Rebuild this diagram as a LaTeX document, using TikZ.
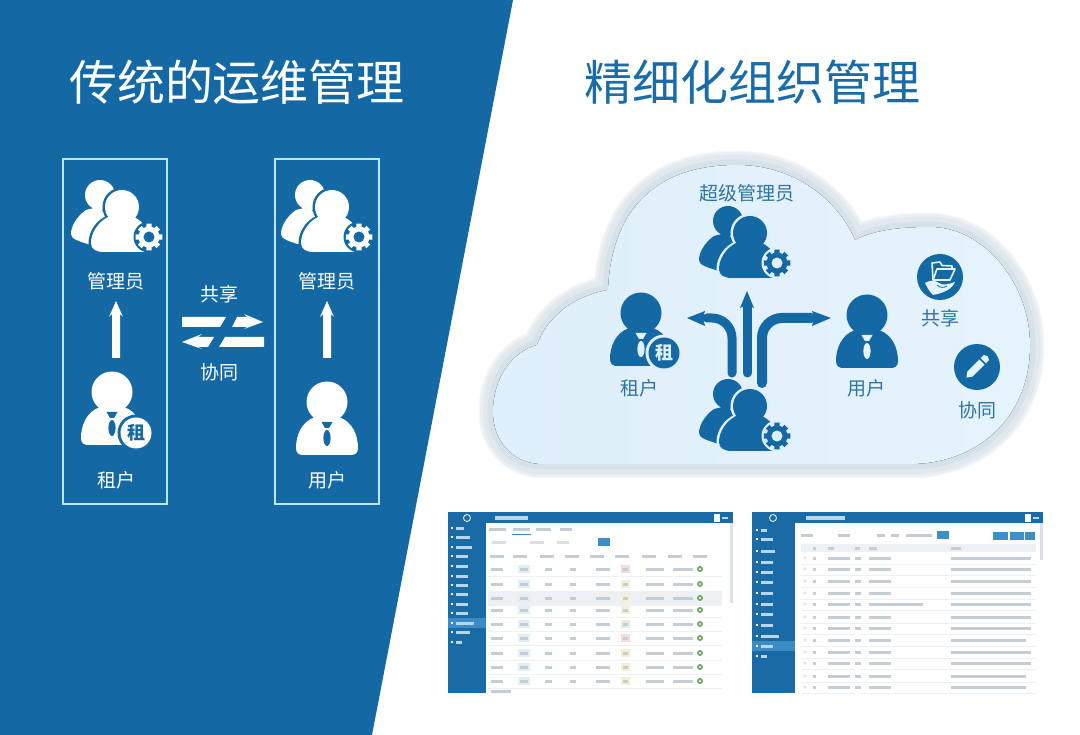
\documentclass[tikz,border=0pt]{standalone}
\usepackage{fontspec}
\setmainfont{Noto Sans CJK SC}
\usetikzlibrary{calc}
\definecolor{mainblue}{HTML}{1469A4}
\definecolor{boxline}{HTML}{BFE6F5}
\definecolor{cloudtext}{HTML}{2F74A0}
\definecolor{titleblue}{HTML}{1A6CA8}
\definecolor{cloudfillA}{HTML}{DFEFFB}
\definecolor{cloudfillB}{HTML}{E5F3FC}
\definecolor{rimA}{HTML}{F4F7F9}
\definecolor{rimB}{HTML}{EAEFF3}
\definecolor{rimC}{HTML}{E1E9EE}
\definecolor{rimD}{HTML}{D6E1E8}
\definecolor{shotblue}{HTML}{1A6AA5}
\definecolor{shothi}{HTML}{3A8CC4}
\definecolor{shotbtn}{HTML}{3D8FC9}
\definecolor{bar}{HTML}{C4CDD4}
\definecolor{sbar}{HTML}{B9D5E8}
\definecolor{rowline}{HTML}{EEF1F3}
\definecolor{pillblue}{HTML}{E0EEF8}
\definecolor{pillred}{HTML}{F9D9D9}
\definecolor{pillyel}{HTML}{F5F1D0}
\definecolor{pillgrn}{HTML}{E4F1DA}
\definecolor{okgreen}{HTML}{6FA860}
\tikzset{
  lbl/.style={inner sep=0pt,font=\fontsize{19}{19}\selectfont},
  lblw/.style={lbl,text=white},
  lblc/.style={lbl,text=cloudtext},
  ttl/.style={inner sep=0pt,font=\fontsize{48}{48}\selectfont},
  framebox/.style={draw=boxline,line width=2pt},
  blockarrow/.style={fill=white},
  flow/.style={draw=mainblue,line width=9pt,line cap=round,rounded corners=20pt},
  flowhead/.style={fill=mainblue},
  tb/.style={fill=bar},
  sb/.style={fill=sbar},
  pics/gearicon/.style 2 args={code={
    \foreach \a in {0,45,...,315}{\fill[#1] (\a-16:9) -- (\a-11:13.5) -- (\a+11:13.5) -- (\a+16:9) -- cycle;}
    \fill[#1] (0,0) circle (10.5pt);
    \fill[#2] (0,0) circle (5.5pt);
  }},
  pics/groupicon/.style 2 args={code={
    \fill[#1] (-22,-12) circle (15pt);
    \fill[#1] (-36,3) .. controls (-46,10) and (-51,20) .. (-51,27) .. controls (-51,32) and (-44,34) .. (-28,39) -- (-10,12) -- (-24,0) -- cycle;
    \path[draw=#2,line width=5pt] (0,0) circle (17pt);
    \path[draw=#2,line width=5pt] (-14,11) .. controls (-24,15) and (-31,26) .. (-31,36) .. controls (-31,42) and (-26,45) .. (-18,45) -- (22,45) -- (22,20) -- (12,12);
    \fill[#1] (0,0) circle (17pt);
    \fill[#1] (-14,10) .. controls (-24,15) and (-31,26) .. (-31,36) .. controls (-31,42) and (-26,45) .. (-18,45) -- (24,45) -- (24,20) .. controls (20,15) and (16,12) .. (12,10) -- cycle;
    \fill[#2] (27,30) circle (15.5pt);
    \pic at (27,30) {gearicon={#1}{#2}};
  }},
  pics/personicon/.style 2 args={code={
    \fill[#1] (0,0) circle (20.5pt);
    \fill[#1] (-12,15) .. controls (-26,20) and (-31,34) .. (-31,46) .. controls (-31,51) and (-28,53) .. (-24,53) -- (24,53) .. controls (28,53) and (31,51) .. (31,46) .. controls (31,34) and (26,20) .. (12,15) -- cycle;
    \fill[#2] (-5.5,20) -- (5.5,20) -- (2,26) -- (-2,26) -- cycle;
    \fill[#2] (0,36) ellipse (3.6pt and 8pt);
  }},
  pics/badgeicon/.style 2 args={code={
    \fill[#2] (0,0) circle (18.5pt);
    \fill[#1] (0,0) circle (15.5pt);
    \node[inner sep=0pt,text=#2,font=\fontsize{18}{18}\selectfont\bfseries] at (0,0) {租};
  }},
  pics/uparrow/.style={code={
    \fill[blockarrow] (0,0) -- (7,16) -- (4,13) -- (4,57) -- (-4,57) -- (-4,13) -- (-7,16) -- cycle;
  }}
}
\def\cloudshape{(543,464) .. controls (512,464) and (493,440) .. (493,412)
  .. controls (493,378) and (512,352) .. (537,345)
  .. controls (548,315) and (575,296) .. (608,290)
  .. controls (612,205) and (660,165) .. (737,165)
  .. controls (790,165) and (835,195) .. (855,240)
  .. controls (875,230) and (900,227) .. (930,227)
  .. controls (985,227) and (1030,285) .. (1030,345)
  .. controls (1030,420) and (975,464) .. (910,464) -- cycle}
\begin{document}
\begin{tikzpicture}[x=1pt,y=-1pt]
\useasboundingbox (0,0) rectangle (1080,735);
\fill[white] (0,0) rectangle (1080,735);
\fill[mainblue] (0,0) -- (513,0) -- (372,735) -- (0,735) -- cycle;

% titles
\node[ttl,text=white] (t1) at (237,82) {传统的运维管理};
\node[ttl,text=titleblue] (t2) at (752,82) {精细化组织管理};

% left panel
\draw[framebox] (63,159) rectangle (167,504);
\draw[framebox] (275,159) rectangle (379,504);
\pic at (122,207) {groupicon={white}{mainblue}};
\pic at (332,207) {groupicon={white}{mainblue}};
\node[lblw] (admL) at (116,281) {管理员};
\node[lblw] (admR) at (327,281) {管理员};
\pic at (116,301) {uparrow};
\pic at (327,301) {uparrow};
\pic at (112,392) {personicon={white}{mainblue}};
\pic at (136,433) {badgeicon={white}{mainblue}};
\pic at (327,402) {personicon={white}{mainblue}};
\node[lblw] (tenL) at (116,480) {租户};
\node[lblw] (usrL) at (327,480) {用户};
\node[lblw] (shL) at (219,294) {共享};
\node[lblw] (coL) at (219,372) {协同};
\fill[white] (182,317) -- (226,317) -- (220,327) -- (182,327) -- cycle;
\fill[white] (232,327) -- (237,317) -- (247,317) -- (244,314) -- (263,322) -- (244,329) -- (247,327) -- cycle;
\fill[white] (264,337) -- (264,347) -- (219,347) -- (225,337) -- cycle;
\fill[white] (214,337) -- (208,347) -- (198,347) -- (202,349) -- (182,342) -- (202,334) -- (198,337) -- cycle;

% cloud
\draw[rimA,line width=29pt,line join=round] \cloudshape;
\draw[rimB,line width=26pt,line join=round] \cloudshape;
\draw[rimC,line width=21pt,line join=round] \cloudshape;
\draw[rimD,line width=11pt,line join=round] \cloudshape;
\fill[left color=cloudfillA,right color=cloudfillB] \cloudshape;

\node[lblc] (sup) at (747,193) {超级管理员};
\pic at (750,233) {groupicon={mainblue}{cloudfillA}};
\pic at (750,406) {groupicon={mainblue}{cloudfillA}};
\pic at (641,313) {personicon={mainblue}{cloudfillA}};
\pic at (664,353) {badgeicon={mainblue}{cloudfillA}};
\pic at (867,315) {personicon={mainblue}{cloudfillB}};
\node[lblc] (tenC) at (639,388) {租户};
\node[lblc] (usrC) at (866,388) {用户};
\node[lblc] (shC) at (940,318) {共享};
\node[lblc] (coC) at (977,410) {协同};

% flow arrows
\coordinate (srcL) at (732,373);
\coordinate (srcM) at (747,373);
\coordinate (srcR) at (762,383);
\coordinate (dstL) at (687,318);
\coordinate (dstM) at (747,291);
\coordinate (dstR) at (831,318);
\draw[flow] (srcL) -- (srcL |- dstL) -- ($(dstL)+(20,0)$);
\draw[flow] (srcM) -- ($(dstM)+(0,16)$);
\draw[flow,line width=10pt] (srcR) -- (srcR |- dstR) -- ($(dstR)+(-20,0)$);
\fill[flowhead] (dstL) -- ++(18,-7) -- ++(-2,7) -- ++(2,8) -- cycle;
\fill[flowhead] (dstM) -- ++(7,17) -- ++(-7,-3) -- ++(-7,3) -- cycle;
\fill[flowhead] (dstR) -- ++(-19,-7) -- ++(2,7) -- ++(-2,8) -- cycle;

% share icon
\fill[mainblue] (940,277) circle (23pt);
\begin{scope}[shift={(940,277)}]
\draw[cloudfillB,line width=1.6pt,line join=round] (-7,3) -- (-8,-14) -- (0,-15) -- (2,-11.5) -- (12,-11) -- (12,-8);
\draw[cloudfillB,line width=1.6pt,line join=round] (-7,3) -- (-3,-8) -- (15,-8) -- (10,3) -- cycle;
\fill[cloudfillB] (-15,6) .. controls (-10,3) and (-5,3) .. (-1,6) .. controls (3,9) and (9,7) .. (15,5) .. controls (12,12) and (4,16) .. (-7,18) .. controls (-11,14) and (-13,10) .. (-15,6) -- cycle;
\draw[mainblue,line width=.8pt] (-3,8) .. controls (0,11) and (4,11) .. (7,9);
\end{scope}
% pencil icon
\fill[mainblue] (977,367) circle (23pt);
\begin{scope}[shift={(977,367)},rotate=45]
\fill[cloudfillB] (-15,0) -- (-10,-3.6) -- (7,-3.6) -- (7,3.6) -- (-10,3.6) -- cycle;
\fill[cloudfillB] (9,-3.6) -- (13.5,-3.6) -- (15,0) -- (13.5,3.6) -- (9,3.6) -- cycle;
\end{scope}

% left screenshot
\fill[white] (486,523) rectangle (733,693);
\fill[shotblue] (448,512) rectangle (733,523);
\fill[shotblue] (448,523) rectangle (486,693);
\fill[shothi] (448,618) rectangle (486,628);
\draw[white,line width=.8pt] (467,518) circle (3.5pt);
\fill[sbar] (495,516) rectangle (528,520);
\fill[white] (714,514) rectangle (720,522);
\fill[sbar] (722,517) rectangle (728,519);
\foreach \y/\w in {528/8,537/14,547/16,556/12,566/12,576/12,585/12,594/12,604/12,613/12,623/18,632/14,642/6}{
  \fill[sbar] (456,\y-1.5) rectangle ++(\w,3);
  \fill[white] (451,\y-1) rectangle ++(2,2);
}
\foreach \x/\w in {489/17,513/17,536/15,560/12}{\fill[tb] (\x,528) rectangle ++(\w,3);}
\draw[shotbtn,line width=.5pt] (512,534) -- (531,534);
\foreach \x/\w in {492/14,530/14,557/12}{\fill[rowline!50!bar] (\x,541) rectangle ++(\w,2.5);}
\fill[shotbtn] (598,538) rectangle (610,546);
\fill[rowline] (488,592) rectangle (722,605);
\foreach \x in {495,518,545,570,595,620,647,673,698}{\fill[tb] (\x-5,555) rectangle ++(14,3);}
\foreach \y/\c in {569/pillred,584/pillyel,598/pillyel,610/pillyel,624/pillgrn,638/pillred,653/pillyel,667/pillyel,681/pillyel}{
  \draw[rowline,line width=.5pt] (488,\y+7) -- (722,\y+7);
  \fill[tb] (491,\y-1.5) rectangle ++(12,3);
  \fill[pillblue] (518,\y-4) rectangle ++(12,8);
  \fill[bar] (520,\y-1.5) rectangle ++(8,3);
  \fill[tb] (545,\y-1.5) rectangle ++(7,3);
  \fill[tb] (570,\y-1.5) rectangle ++(6,3);
  \fill[tb] (596,\y-1.5) rectangle ++(14,3);
  \fill[\c] (621,\y-4) rectangle ++(9,8);
  \fill[bar] (623,\y-1.5) rectangle ++(5,3);
  \fill[tb] (646,\y-1.5) rectangle ++(18,3);
  \fill[tb] (673,\y-1.5) rectangle ++(20,3);
  \fill[okgreen] (700,\y) circle (3pt);
  \fill[white] (700,\y) circle (1.2pt);
}
\fill[tb] (491,690) rectangle ++(20,3);
\fill[bar!60] (730,523) rectangle (733,603);

% right screenshot
\fill[white] (795,523) rectangle (1043,693);
\fill[shotblue] (752,512) rectangle (1043,523);
\fill[shotblue] (752,523) rectangle (795,693);
\fill[shothi] (752,641) rectangle (795,651);
\draw[white,line width=.8pt] (773,518) circle (3.5pt);
\fill[sbar] (806,516) rectangle (845,520);
\fill[white] (1025,514) rectangle (1031,522);
\fill[sbar] (1033,517) rectangle (1039,519);
\foreach \y/\w in {530/6,539/12,551/14,562/12,572/12,582/12,593/12,604/12,614/12,625/12,636/18,646/12,656/6}{
  \fill[sbar] (761,\y-1.5) rectangle ++(\w,3);
  \fill[white] (756,\y-1) rectangle ++(2,2);
}
\foreach \x/\w in {801/12,838/12,877/8,891/8,906/26}{\fill[tb] (\x,534) rectangle ++(\w,3);}
\fill[shotbtn] (937,531) rectangle (949,539);
\fill[shotbtn] (993,532) rectangle (1008,540);
\fill[shotbtn] (1010,532) rectangle (1024,540);
\fill[shotbtn] (1025,532) rectangle (1035,540);
\fill[rowline] (801,544) rectangle (1036,552);
\foreach \x/\w in {813/3,828/6,855/5,869/8,951/10}{\fill[tb] (\x,547) rectangle ++(\w,2.5);}
\foreach \y/\l/\r in {558/22/80,569/22/80,581/22/80,593/22/80,604/54/80,617/22/80,628/22/80,640/22/75,652/22/80,663/22/80,676/22/75,687/22/75}{
  \draw[rowline,line width=.5pt] (801,\y+6) -- (1036,\y+6);
  \draw[bar,line width=.4pt] (805,\y) circle (1.4pt);
  \fill[tb] (813,\y-1) rectangle ++(3,2.5);
  \fill[tb] (828,\y-1) rectangle ++(22,2.5);
  \fill[tb] (855,\y-1) rectangle ++(6,2.5);
  \fill[tb] (869,\y-1) rectangle ++(\l,2.5);
  \fill[tb] (951,\y-1) rectangle ++(\r,2.5);
}
\fill[bar!60] (1040,523) rectangle (1043,560);
\end{tikzpicture}
\end{document}
